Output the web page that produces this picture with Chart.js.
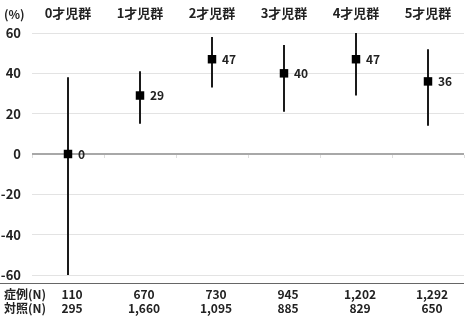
<!DOCTYPE html>
<html>
<head>
<meta charset="utf-8">
<script src="https://cdn.jsdelivr.net/npm/chart.js@4"></script>
<style>
html,body{margin:0;padding:0;background:#fff;}
#wrap{width:466px;height:316px;position:relative;}
</style>
</head>
<body>
<div id="wrap"><canvas id="c" width="466" height="316"></canvas></div>
<script>
const categories = ['0才児群','1才児群','2才児群','3才児群','4才児群','5才児群'];
const estimates = [0, 29, 47, 40, 47, 36];
const lowerCI = [-60, 15, 33, 21, 29, 14];
const upperCI = [38, 41, 58, 54, 60, 52];
const casesN = ['110','670','730','945','1,202','1,292'];
const controlsN = ['295','1,660','1,095','885','829','650'];
const rowLabels = ['症例(N)','対照(N)'];
const yUnit = '(%)';

const FONT = '"Noto Sans CJK JP", "Noto Sans", sans-serif';
const TXT = '#222';

const overlay = {
  id: 'overlay',
  beforeDatasetsDraw(chart) {
    const ctx = chart.ctx, xs = chart.scales.x, ys = chart.scales.y, ca = chart.chartArea;
    ctx.save();
    const z = ys.getPixelForValue(0);
    ctx.strokeStyle = '#ddd'; ctx.lineWidth = 1;
    for (let i = 0; i <= categories.length; i++) {
      const x = Math.round(ca.left + i * (ca.right - ca.left) / categories.length) + 0.5;
      ctx.beginPath(); ctx.moveTo(x, z + 1); ctx.lineTo(x, z + 4); ctx.stroke();
    }
    ctx.strokeStyle = '#1a1a1a'; ctx.lineWidth = 2;
    categories.forEach((c, i) => {
      const x = xs.getPixelForValue(i);
      ctx.beginPath();
      ctx.moveTo(x, ys.getPixelForValue(upperCI[i]));
      ctx.lineTo(x, ys.getPixelForValue(lowerCI[i]));
      ctx.stroke();
    });
    ctx.restore();
  },
  afterDatasetsDraw(chart) {
    const ctx = chart.ctx, xs = chart.scales.x, ys = chart.scales.y, ca = chart.chartArea;
    ctx.save();
    ctx.fillStyle = TXT;
    ctx.font = 'bold 12px ' + FONT;
    ctx.textBaseline = 'middle';
    ctx.textAlign = 'left';
    estimates.forEach((v, i) => {
      ctx.fillText(String(v), xs.getPixelForValue(i) + 10, ys.getPixelForValue(v));
    });
    ctx.fillText(yUnit, 4, 14);
    const lineY = ca.bottom + 8.5;
    ctx.strokeStyle = '#666'; ctx.lineWidth = 1;
    ctx.beginPath(); ctx.moveTo(0, lineY); ctx.lineTo(ca.right, lineY); ctx.stroke();
    const r1 = ca.bottom + 19, r2 = ca.bottom + 33.5;
    ctx.textAlign = 'left';
    ctx.fillText(rowLabels[0], 4, r1);
    ctx.fillText(rowLabels[1], 4, r2);
    ctx.textAlign = 'center';
    categories.forEach((c, i) => {
      const x = xs.getPixelForValue(i) + 4;
      ctx.fillText(casesN[i], x, r1);
      ctx.fillText(controlsN[i], x, r2);
    });
    ctx.restore();
  }
};

new Chart(document.getElementById('c'), {
  type: 'line',
  data: {
    labels: categories,
    datasets: [{
      data: estimates,
      showLine: false,
      pointStyle: 'rect',
      pointRadius: 6,
      pointHoverRadius: 6,
      backgroundColor: '#000',
      borderColor: '#000',
      borderWidth: 0
    }]
  },
  options: {
    responsive: false,
    animation: false,
    events: [],
    layout: { autoPadding: false, padding: { top: 0, right: 2, bottom: 41, left: 0 } },
    plugins: { legend: { display: false }, tooltip: { enabled: false } },
    scales: {
      x: {
        position: 'top',
        offset: true,
        grid: { display: false, drawTicks: false },
        border: { display: false },
        ticks: { color: TXT, font: { family: FONT, size: 13, weight: 'bold' }, padding: 12, maxRotation: 0 },
        afterFit(s) { s.height = 33; }
      },
      y: {
        min: -60, max: 60,
        grid: {
          drawTicks: false,
          color: ctx => ctx.tick && ctx.tick.value === 0 ? '#a8a8a8' : '#e3e3e3',
          lineWidth: ctx => ctx.tick && ctx.tick.value === 0 ? 2 : 1
        },
        border: { display: false },
        ticks: { stepSize: 20, color: TXT, font: { family: FONT, size: 13, weight: 'bold' }, padding: 11 },
        afterFit(s) { s.width = 32; }
      }
    }
  },
  plugins: [overlay]
});
</script>
</body>
</html>
